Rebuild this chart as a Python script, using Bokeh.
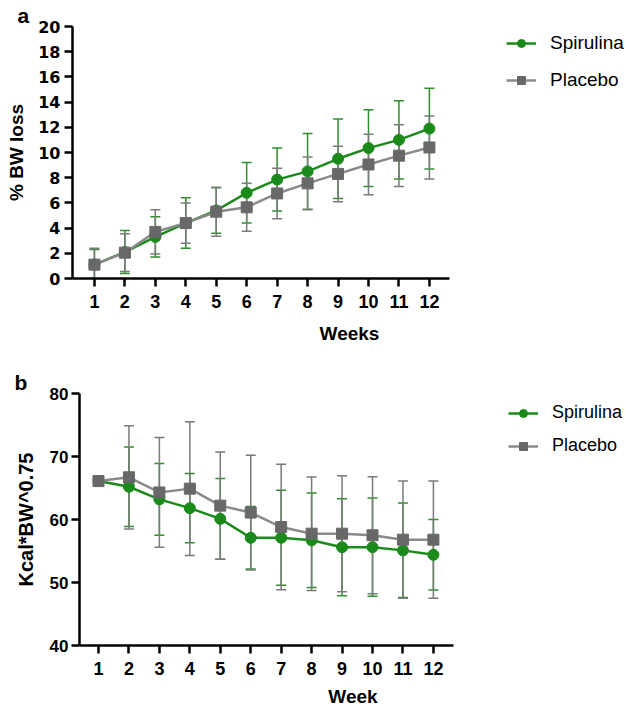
from bokeh.plotting import figure
from bokeh.models import (ColumnDataSource, Whisker, TeeHead, Legend, LegendItem,
                          FixedTicker, Range1d)
from bokeh.embed import file_html
from bokeh.resources import INLINE

weeks = list(range(1, 13))

# Panel a: % body-weight loss (mean +/- SD)
bw_spir = [1.1, 2.1, 3.3, 4.4, 5.4, 6.8, 7.85, 8.5, 9.5, 10.35, 11.0, 11.9]
bw_spir_err = [1.2, 1.7, 1.6, 2.0, 1.8, 2.4, 2.5, 3.0, 3.15, 3.05, 3.1, 3.2]
bw_plac = [1.1, 2.05, 3.7, 4.4, 5.3, 5.65, 6.75, 7.55, 8.3, 9.05, 9.75, 10.4]
bw_plac_err = [1.3, 1.5, 1.75, 1.6, 1.95, 1.9, 2.0, 2.1, 2.2, 2.4, 2.45, 2.5]

# Panel b: Kcal*BW^0.75 (mean +/- SD)
kc_spir = [66.1, 65.2, 63.2, 61.8, 60.1, 57.1, 57.1, 56.7, 55.6, 55.6, 55.1, 54.4]
kc_spir_err = [0, 6.3, 5.7, 5.5, 6.4, 4.95, 7.55, 7.5, 7.7, 7.8, 7.5, 5.6]
kc_plac = [66.1, 66.7, 64.3, 64.9, 62.2, 61.1, 58.8, 57.75, 57.75, 57.5, 56.8, 56.8]
kc_plac_err = [0, 8.2, 8.7, 10.6, 8.5, 9.1, 9.97, 9.0, 9.2, 9.3, 9.3, 9.3]

y_ticks_a = list(range(0, 21, 2))
y_ticks_b = [40, 50, 60, 70, 80]
series_names = ["Spirulina", "Placebo"]

GREEN = "#1a8a1a"
GREEN_ERR = "#2f8f2f"
GREY_LINE = "#8a8a8a"
GREY_MARK = "#686868"
GREY_ERR = "#7a7a7a"
FONT = "Liberation Sans"
W = 626


def style_axes(p, xlab_size, ylab_size, ylab_font):
    for ax in (p.xaxis[0], p.yaxis[0]):
        ax.axis_line_width = 2.5
        ax.axis_line_color = "black"
        ax.major_tick_line_width = 2.5
        ax.major_tick_line_color = "black"
        ax.major_tick_out = 8
        ax.major_tick_in = 0
        ax.minor_tick_line_color = None
        ax.major_label_text_font_style = "bold"
        ax.major_label_text_color = "black"
        ax.axis_label_text_font = FONT
        ax.axis_label_text_font_style = "bold"
        ax.axis_label_text_color = "black"
    p.xaxis[0].major_label_text_font = FONT
    p.xaxis[0].major_label_text_font_size = xlab_size
    p.yaxis[0].major_label_text_font = ylab_font
    p.yaxis[0].major_label_text_font_size = ylab_size
    p.xgrid.grid_line_color = None
    p.ygrid.grid_line_color = None
    p.outline_line_color = None
    p.title.align = "left"
    p.title.text_font = FONT
    p.title.text_font_style = "bold"
    p.title.text_font_size = "21px"
    p.title.text_color = "black"
    p.title.standoff = 0


def add_series(p, y, err, color, err_color, line_color, marker, size):
    src = ColumnDataSource(dict(x=weeks, y=y,
                                upper=[a + b for a, b in zip(y, err)],
                                lower=[a - b for a, b in zip(y, err)]))
    w = Whisker(base="x", upper="upper", lower="lower", source=src,
                line_color=err_color, line_width=1.5,
                upper_head=TeeHead(size=10, line_color=err_color, line_width=1.5),
                lower_head=TeeHead(size=10, line_color=err_color, line_width=1.5))
    p.add_layout(w)
    ln = p.line("x", "y", source=src, line_color=line_color, line_width=2.5)
    sc = p.scatter("x", "y", source=src, marker=marker, size=size,
                   fill_color=color, line_color=color)
    return ln, sc


def extended_range(x0, x1, left_px, axis_right_px):
    # axis spans x0..x1 between left_px and axis_right_px; frame extends to canvas edge
    per_px = (x1 - x0) / (axis_right_px - left_px)
    return Range1d(x0, x0 + per_px * (W - left_px))


def make_legend(items, loc, spacing, fsize):
    return Legend(items=items, location=loc, padding=0, margin=0, spacing=spacing,
                  glyph_width=30, glyph_height=20, label_height=20, label_standoff=14,
                  label_text_font=FONT, label_text_font_size=fsize,
                  label_text_color="black",
                  border_line_color=None, background_fill_alpha=0)


# ---------- Panel a ----------
pa = figure(width=W, height=350, output_backend="svg", toolbar_location=None,
            title="a",
            x_range=extended_range(0.28, 12.66, 72, 449), y_range=Range1d(0, 20),
            min_border_left=72, min_border_right=0, min_border_top=26,
            min_border_bottom=72)
pa.background_fill_color = "white"
pa.border_fill_color = "white"
style_axes(pa, "18px", "16px", "DejaVu Sans")
pa.title.offset = -55
pa.xaxis.bounds = (0.28, 12.66)
pa.xaxis.ticker = FixedTicker(ticks=weeks)
pa.yaxis.ticker = FixedTicker(ticks=y_ticks_a)
pa.xaxis.axis_label = "Weeks"
pa.xaxis.axis_label_text_font_size = "19px"
pa.xaxis.major_label_standoff = 8
pa.xaxis.axis_label_standoff = 12
pa.yaxis.axis_label = "% BW loss"
pa.yaxis.axis_label_text_font_size = "19px"
pa.yaxis.major_label_standoff = 4
pa.yaxis.axis_label_standoff = 8

la1, sa1 = add_series(pa, bw_spir, bw_spir_err, GREEN, GREEN_ERR, GREEN, "circle", 11)
la2, sa2 = add_series(pa, bw_plac, bw_plac_err, GREY_MARK, GREY_ERR, GREY_LINE, "square", 11)

pa.add_layout(make_legend([LegendItem(label=series_names[0], renderers=[la1, sa1]),
                           LegendItem(label=series_names[1], renderers=[la2, sa2])],
                          (434, 187), 15, "19px"))

# ---------- Panel b ----------
pb = figure(width=W, height=362, output_backend="svg", toolbar_location=None,
            title="b",
            x_range=extended_range(0.376, 12.66, 79, 453), y_range=Range1d(40, 80),
            min_border_left=79, min_border_right=0, min_border_top=43,
            min_border_bottom=67)
pb.background_fill_color = "white"
pb.border_fill_color = "white"
style_axes(pb, "18px", "17px", FONT)
pb.title.offset = -65
pb.xaxis.bounds = (0.376, 12.66)
pb.xaxis.ticker = FixedTicker(ticks=weeks)
pb.yaxis.ticker = FixedTicker(ticks=y_ticks_b)
pb.xaxis.axis_label = "Week"
pb.xaxis.axis_label_text_font_size = "19px"
pb.xaxis.major_label_standoff = 8
pb.xaxis.axis_label_standoff = 8
pb.yaxis.axis_label = "Kcal*BW^0.75"
pb.yaxis.axis_label_text_font_size = "20px"
pb.yaxis.major_label_standoff = 3
pb.yaxis.axis_label_standoff = 10

lb1, sb1 = add_series(pb, kc_spir, kc_spir_err, GREEN, GREEN_ERR, GREEN, "circle", 11)
lb2, sb2 = add_series(pb, kc_plac, kc_plac_err, GREY_MARK, GREY_ERR, GREY_LINE, "square", 11)

pb.add_layout(make_legend([LegendItem(label=series_names[0], renderers=[lb1, sb1]),
                           LegendItem(label=series_names[1], renderers=[lb2, sb2])],
                          (429, 189), 12, "18px"))

open("out.html", "w").write(file_html([pa, pb], INLINE))
